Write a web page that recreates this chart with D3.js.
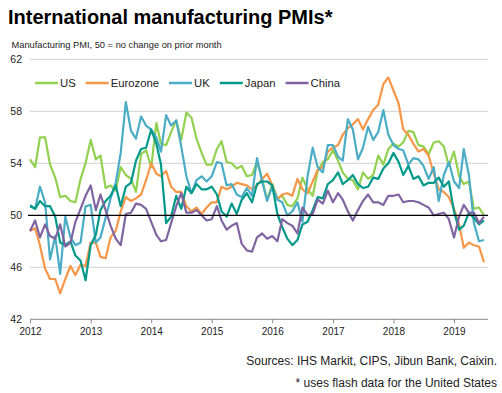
<!DOCTYPE html>
<html>
<head>
<meta charset="utf-8">
<script src="https://cdn.jsdelivr.net/npm/d3@7"></script>
<style>
  body { margin: 0; background: #fff; }
  svg { display: block; font-family: Arial, "Liberation Sans", sans-serif; }
</style>
</head>
<body>
<div id="chart"></div>
<script>
// monthly readings, Jan 2012 - Jul 2019
const usPMI = [
  54.3, 53.7, 56.0, 56.0, 53.9, 52.9, 51.4, 51.5, 51.1, 51.0, 52.8, 54.0,
  55.8, 54.3, 54.6, 52.1, 52.3, 51.9, 53.7, 53.1, 52.8, 51.8, 54.7, 55.0,
  53.7, 57.1, 55.5, 55.4, 56.4, 57.3, 55.8, 57.9, 57.5, 55.9, 54.8, 53.9,
  53.9, 55.1, 55.7, 54.1, 54.0, 53.6, 53.8, 53.0, 53.1, 54.1, 52.8, 51.2,
  52.4, 51.3, 51.5, 50.8, 50.7, 51.3, 52.9, 52.0, 51.5, 53.4, 54.1, 54.3,
  55.0, 54.2, 53.3, 52.8, 52.7, 52.0, 53.3, 52.8, 53.1, 54.6, 53.9, 55.1,
  55.5, 55.3, 55.6, 56.5, 56.4, 55.4, 55.3, 54.7, 55.6, 55.7, 55.3, 53.8,
  54.9, 53.0, 52.4, 52.6, 50.5, 50.6, 50.0
];
const eurozonePMI = [
  48.8, 49.0, 47.7, 45.9, 45.1, 45.1, 44.0, 45.1, 46.1, 45.4, 46.2, 46.1,
  47.9, 47.9, 46.8, 46.7, 48.3, 48.8, 50.3, 51.4, 51.1, 51.3, 51.6, 52.7,
  54.0, 53.2, 53.0, 53.4, 52.2, 51.8, 51.8, 50.7, 50.3, 50.6, 50.1, 50.6,
  51.0, 51.0, 52.2, 52.0, 52.2, 52.5, 52.4, 52.3, 52.0, 52.3, 52.8, 53.2,
  52.3, 51.2, 51.6, 51.7, 51.5, 52.8, 52.0, 51.7, 52.6, 53.5, 53.7, 54.9,
  55.2, 55.4, 56.2, 56.7, 57.0, 57.4, 56.6, 57.4, 58.1, 58.5, 60.1, 60.6,
  59.6, 58.6, 56.6, 56.2, 55.5, 54.9, 55.1, 54.6, 53.2, 52.0, 51.8, 51.4,
  50.5, 49.3, 47.5, 47.9, 47.7, 47.6, 46.4
];
const ukPMI = [
  50.8, 50.5, 52.2, 51.0, 46.6, 48.4, 45.5, 49.9, 48.3, 47.7, 47.9, 50.7,
  50.8, 47.9, 48.3, 49.8, 51.3, 52.5, 54.8, 58.7, 56.5, 55.9, 57.6, 56.9,
  56.6, 56.0, 54.9, 57.7, 56.9, 57.3, 55.3, 53.0, 51.7, 52.7, 53.0, 52.6,
  53.0, 54.1, 54.0, 52.3, 52.4, 51.6, 51.4, 52.1, 51.5, 54.4, 52.6, 51.1,
  52.2, 51.2, 51.0, 50.0, 50.3, 51.0, 49.5, 53.0, 55.2, 53.7, 53.3, 55.4,
  55.4, 54.5, 54.2, 57.4, 56.6, 54.3, 55.2, 56.8, 55.8, 56.4, 58.1, 56.2,
  55.4, 55.1, 55.0, 53.9, 54.4, 54.3, 53.8, 52.8, 53.7, 51.1, 53.1, 54.1,
  52.6, 52.1, 55.1, 53.1, 49.4, 48.0, 48.1
];
const japanPMI = [
  50.7, 50.5, 51.1, 50.7, 50.7, 49.9, 47.9, 47.7, 48.0, 46.9, 46.5, 45.0,
  47.7, 48.5, 50.4, 51.1, 51.5, 52.3, 50.7, 52.2, 52.5, 54.2, 55.1, 55.2,
  56.6, 55.5, 53.9, 49.4, 49.9, 51.5, 50.5, 52.2, 51.7, 52.4, 52.0, 52.0,
  52.2, 51.6, 50.3, 49.9, 50.9, 50.1, 51.2, 51.7, 51.0, 52.4, 52.6, 52.6,
  52.3, 50.1, 49.1, 48.2, 47.7, 48.1, 49.3, 49.5, 50.4, 51.4, 51.3, 52.4,
  52.7, 53.3, 52.4, 52.7, 53.1, 52.4, 52.1, 52.2, 52.9, 52.8, 53.6, 54.0,
  54.8, 54.1, 53.1, 53.8, 52.8, 53.0, 52.3, 52.5, 52.5, 52.9, 52.2, 52.6,
  50.3, 48.9, 49.2, 50.2, 49.8, 49.3, 49.6
];
const chinaPMI = [
  48.8, 49.6, 48.3, 49.3, 48.4, 48.2, 49.3, 47.6, 47.9, 49.5, 50.5, 51.5,
  52.3, 50.4, 51.6, 50.4, 49.2, 48.2, 47.7, 50.1, 50.2, 50.9, 50.8, 50.5,
  49.5, 48.5, 48.0, 48.1, 49.4, 50.7, 51.7, 50.2, 50.2, 50.4, 50.0, 49.6,
  49.7, 50.7, 49.6, 48.9, 49.2, 49.4, 47.8, 47.3, 47.2, 48.3, 48.6, 48.2,
  48.4, 48.0, 49.7, 49.4, 49.2, 48.6, 50.6, 50.0, 50.1, 51.2, 50.9, 51.9,
  51.0, 51.7, 51.2, 50.3, 49.6, 50.4, 51.1, 51.6, 51.0, 51.0, 50.8, 51.5,
  51.5, 51.6, 51.0, 51.1, 51.1, 51.0, 50.8, 50.6, 50.0, 50.1, 50.2, 49.7,
  48.3, 49.9, 50.8, 50.2, 50.2, 49.4, 49.9
];

const seriesNames = ["US", "Eurozone", "UK", "Japan", "China"];
const seriesColors = ["#92d050", "#f79646", "#4bacc6", "#00998a", "#8064a2"];
const yTicks = [42, 46, 50, 54, 58, 62];
const yearTicks = [2012, 2013, 2014, 2015, 2016, 2017, 2018, 2019];

const allSeries = [usPMI, eurozonePMI, ukPMI, japanPMI, chinaPMI];
const months = d3.timeMonth.range(new Date(2012, 0, 1), new Date(2019, 7, 1));

const width = 502, height = 393;
const left = 30, right = 488;

const svg = d3.select("#chart").append("svg")
  .attr("width", width)
  .attr("height", height);

const x = d3.scaleTime()
  .domain([months[0], months[months.length - 1]])
  .range([30, 484]);
const y = d3.scaleLinear().domain([42, 62]).range([319.3, 59.3]);

// title + subtitle
svg.append("text")
  .attr("x", 8).attr("y", 24)
  .style("font-size", "20px").style("font-weight", "bold")
  .text("International manufacturing PMIs*");
svg.append("text")
  .attr("x", 11.5).attr("y", 47.5)
  .style("font-size", "9.3px").attr("fill", "#222")
  .text("Manufacturing PMI, 50 = no change on prior month");

// gridlines
svg.append("g").selectAll("line")
  .data(yTicks.filter(d => d !== 42 && d !== 50))
  .enter().append("line")
  .attr("x1", left).attr("x2", right)
  .attr("y1", d => y(d)).attr("y2", d => y(d))
  .attr("stroke", "#d0d0d0").attr("stroke-width", 1);

// y labels
svg.append("g").selectAll("text")
  .data(yTicks)
  .enter().append("text")
  .attr("x", 22).attr("y", d => y(d) + 3.8)
  .attr("text-anchor", "end")
  .style("font-size", "10.5px").attr("fill", "#222")
  .text(d => d);

// x axis
const xAxis = d3.axisBottom(x)
  .tickValues(yearTicks.map(yr => new Date(yr, 0, 1)))
  .tickFormat(d3.timeFormat("%Y"))
  .tickSize(4);
const gx = svg.append("g")
  .attr("transform", "translate(0," + y(42) + ")")
  .call(xAxis);
gx.select(".domain").attr("d", "M" + left + ",0H" + right).attr("stroke", "#888");
gx.selectAll(".tick line").attr("stroke", "#888");
gx.selectAll(".tick text")
  .attr("y", 9)
  .style("font-size", "10px").style("font-family", "Arial, 'Liberation Sans', sans-serif")
  .attr("fill", "#222");

// series lines
const line = d3.line()
  .x((d, i) => x(months[i]))
  .y(d => y(d));

svg.append("g").selectAll("path")
  .data(allSeries)
  .enter().append("path")
  .attr("d", line)
  .attr("fill", "none")
  .attr("stroke", (d, i) => seriesColors[i])
  .attr("stroke-width", 2.2)
  .attr("stroke-linejoin", "round");

// 50 line
svg.append("line")
  .attr("x1", 28).attr("x2", right)
  .attr("y1", y(50)).attr("y2", y(50))
  .attr("stroke", "#000").attr("stroke-width", 1.3);

// legend
const legend = svg.append("g").attr("transform", "translate(35,83)");
let lx = 0;
seriesNames.forEach((name, i) => {
  legend.append("line")
    .attr("x1", lx).attr("x2", lx + 23)
    .attr("y1", 0).attr("y2", 0)
    .attr("stroke", seriesColors[i]).attr("stroke-width", 2.5);
  const t = legend.append("text")
    .attr("x", lx + 25).attr("y", 4)
    .style("font-size", "11.3px").attr("fill", "#222")
    .text(name);
  lx += 25 + t.node().getComputedTextLength() + 10;
});

// sources
svg.append("text")
  .attr("x", 497).attr("y", 365)
  .attr("text-anchor", "end")
  .style("font-size", "12px").attr("fill", "#222")
  .text("Sources: IHS Markit, CIPS, Jibun Bank, Caixin.");
svg.append("text")
  .attr("x", 497).attr("y", 386.5)
  .attr("text-anchor", "end")
  .style("font-size", "12px").attr("fill", "#222")
  .text("* uses flash data for the United States");
</script>
</body>
</html>
